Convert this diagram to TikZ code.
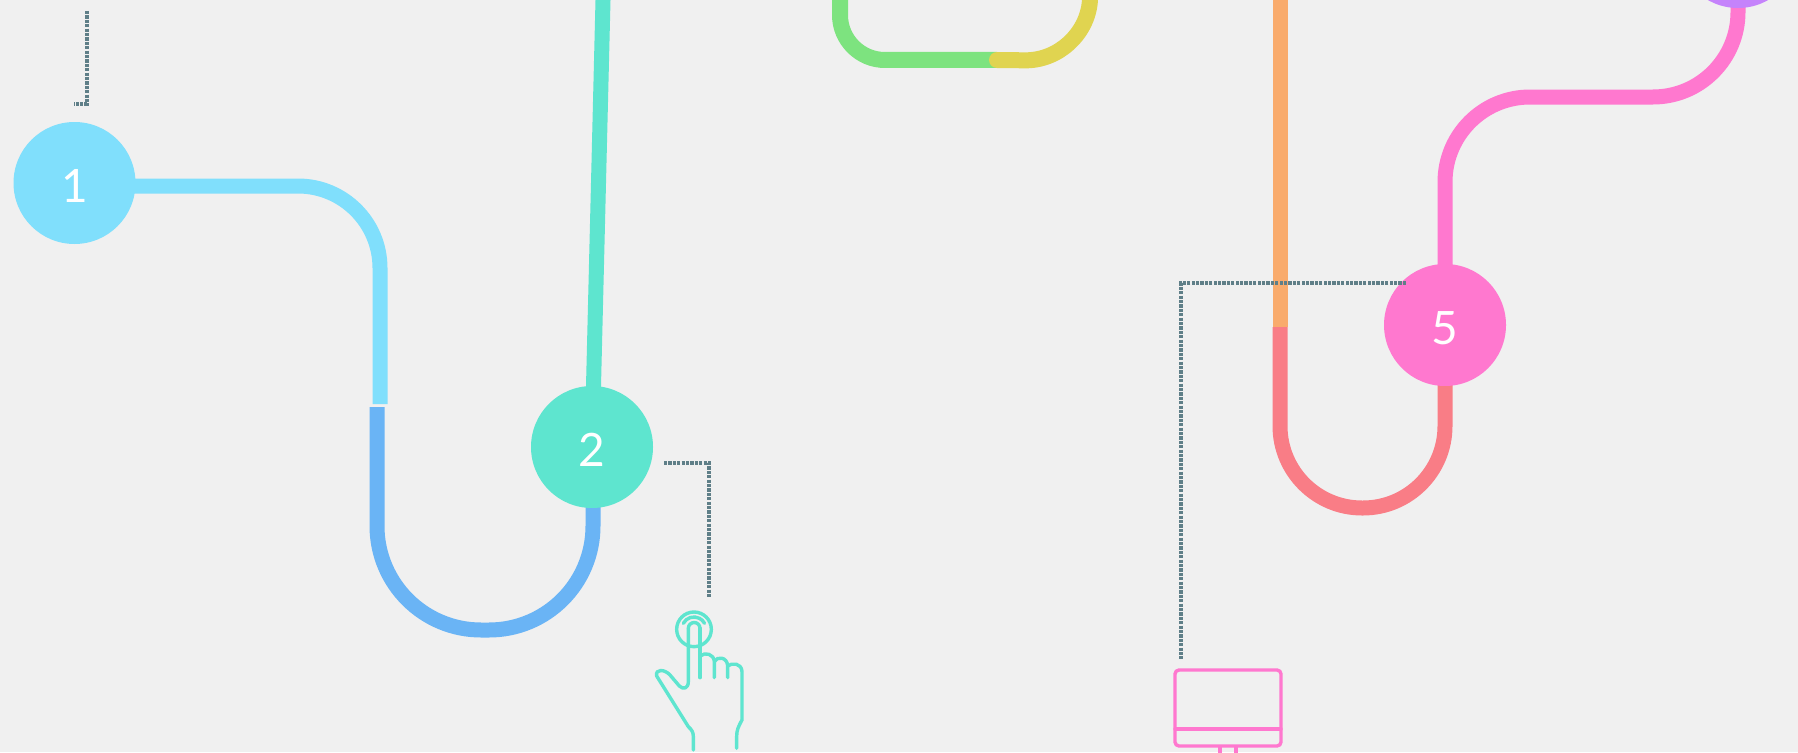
\documentclass[tikz,border=0pt]{standalone}
\usepackage{fontspec}
\setmainfont{Lato}
\definecolor{bg}{HTML}{F0F0F0}
\definecolor{cOne}{HTML}{80DFFC}
\definecolor{cBlue}{HTML}{6AB4F5}
\definecolor{cTeal}{HTML}{5EE5CF}
\definecolor{cGreen}{HTML}{7DE37F}
\definecolor{cYellow}{HTML}{E0D450}
\definecolor{cOrange}{HTML}{F9AB6C}
\definecolor{cRed}{HTML}{F97D86}
\definecolor{cPink}{HTML}{FF78CF}
\definecolor{cPurple}{HTML}{C583FB}
\definecolor{cDash}{HTML}{5F7F88}
\tikzset{
  stepdot/.style={circle,fill=#1,minimum size=122pt,inner sep=0pt,text=white,text height=38pt,text depth=0pt,font=\fontsize{46}{46}\selectfont},
  track/.style={draw=#1,line width=15pt},
  leader/.style={draw=cDash,line width=3.5pt,dash pattern=on 3.2pt off 1.2pt},
  iconline/.style={draw=#1,line width=3.4pt,line join=round,line cap=round},
}
\begin{document}
\begin{tikzpicture}[x=1pt,y=-1pt]
\path[use as bounding box,fill=bg] (0,0) rectangle (1798,752);
% anchor coordinates
\coordinate (one) at (74.5,183);
\coordinate (two) at (592,447);
\coordinate (five) at (1445,325);
\coordinate (six) at (1738,-53);
\coordinate (blueTop) at (377,407);
\coordinate (oneEnd) at (380,404);
\coordinate (tealTop) at (603,0);
\coordinate (greenTop) at (840,0);
\coordinate (greenYellow) at (997,60);
\coordinate (yellowTop) at (1090,0);
\coordinate (orangeTop) at (1280,0);
\coordinate (orangeRed) at (1280,327);
\coordinate (pinkTop) at (1738,0);
% tracks
\draw[track=cOne,rounded corners=82pt] (one |- 0,186) -- (380,186) -- (oneEnd);
\draw[track=cBlue,rounded corners=104pt] (blueTop) -- (377,630) -- (593,630) -- (593,447);
\draw[track=cTeal] (two) -- (tealTop);
\draw[track=cGreen,line width=16pt,rounded corners=45pt] (greenTop) -- (840,60) -- (greenYellow);
\draw[track=cYellow,line width=16pt,rounded corners=60pt,line cap=round] (greenYellow) -- (1085,61) -- (yellowTop);
\draw[track=cOrange] (orangeTop) -- (orangeRed);
\draw[track=cRed,rounded corners=82pt] (orangeRed) -- (1280,508) -- (1445,508) -- (five);
\draw[track=cPink,rounded corners=85pt] (five) -- (1445,97) -- (1738,97) -- (pinkTop);
% steps
\node[stepdot=cOne] (n1) at (one) {1};
\node[stepdot=cTeal] (n2) at (two) {2};
\node[stepdot=cPink] (n5) at (five) {5};
\node[stepdot=cPurple] (n6) at (six) {};
% dashed leaders
\coordinate (la) at (87,11);
\coordinate (lb) at (74,104);
\draw[leader] (la) -- (87,104) -- (lb);
\coordinate (lc) at (664,463);
\coordinate (ld) at (709,598);
\draw[leader] (lc) -- (709,463) -- (ld);
\coordinate (le) at (1406,283);
\coordinate (lf) at (1181,659);
\draw[leader] (le) -- (1181,283) -- (lf);
% hand icon
\begin{scope}[shift={(620,580)},x=0.3333pt,y=-0.3333pt]
\draw[iconline=cTeal] (222,148) circle[radius=52];
\draw[iconline=cTeal] (190,130) arc[start angle=208,end angle=332,radius=36];
\draw[iconline=cTeal] (205,145) arc[start angle=180,end angle=360,radius=17.5];
\draw[iconline=cTeal] (205,145) -- (205,305) .. controls (205,325) and (190,330) .. (178,318)
  -- (150,285) .. controls (135,268) and (105,265) .. (110,288)
  -- (205,440) .. controls (215,450) and (220,455) .. (220,470) -- (220,510);
\draw[iconline=cTeal] (240,145) -- (240,293);
\draw[iconline=cTeal] (241,228) .. controls (255,215) and (282,222) .. (283,245) -- (283,293);
\draw[iconline=cTeal] (283,245) .. controls (290,228) and (322,230) .. (323,258) -- (323,293);
\draw[iconline=cTeal] (323,258) .. controls (335,248) and (365,248) .. (366,275) -- (366,420)
  .. controls (355,440) and (350,450) .. (350,470) -- (350,505);
\end{scope}
% monitor icon
\draw[iconline=cPink,rounded corners=4pt] (1175,670) rectangle (1281,746);
\draw[iconline=cPink] (1175,729) -- (1281,729);
\draw[iconline=cPink] (1220,747) -- (1220,754);
\draw[iconline=cPink] (1236,747) -- (1236,754);
\end{tikzpicture}
\end{document}
